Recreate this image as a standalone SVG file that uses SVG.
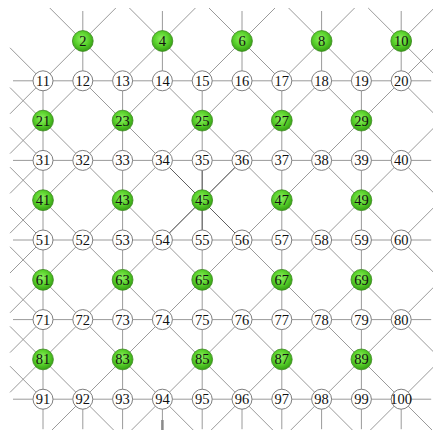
<svg xmlns="http://www.w3.org/2000/svg" width="433" height="430" viewBox="0 0 433 430">
<defs>
<radialGradient id="gg" cx="45%" cy="40%" r="62%">
<stop offset="0%" stop-color="#8ef062"/>
<stop offset="55%" stop-color="#58d02a"/>
<stop offset="100%" stop-color="#329c12"/>
</radialGradient>
</defs>
<style>
.e line{stroke:#9a9a9a;stroke-width:1;fill:none}
.e line.d{stroke:#606060}
.w circle{fill:#fff;stroke:#808080;stroke-width:1}
.g circle{fill:url(#gg);stroke:#3f8a22;stroke-width:0.8}
text{font-family:"Liberation Serif","Times New Roman",serif;font-size:14.5px;text-anchor:middle;fill:#111}
</style>
<rect width="433" height="430" fill="#fff"/>
<g id="connectors" class="e">
<line x1="13" y1="80.8" x2="431.2" y2="80.8"/>
<line x1="13" y1="160.4" x2="431.2" y2="160.4"/>
<line x1="13" y1="240" x2="431.2" y2="240"/>
<line x1="13" y1="319.6" x2="431.2" y2="319.6"/>
<line x1="13" y1="399.2" x2="431.2" y2="399.2"/>
<line x1="43" y1="80.8" x2="43" y2="429.2"/>
<line x1="122.6" y1="80.8" x2="122.6" y2="429.2"/>
<line x1="202.2" y1="80.8" x2="202.2" y2="429.2"/>
<line x1="281.8" y1="80.8" x2="281.8" y2="429.2"/>
<line x1="361.4" y1="80.8" x2="361.4" y2="429.2"/>
<line x1="82.8" y1="11" x2="82.8" y2="80.8"/>
<line x1="162.4" y1="11" x2="162.4" y2="80.8"/>
<line x1="242" y1="11" x2="242" y2="80.8"/>
<line x1="321.6" y1="11" x2="321.6" y2="80.8"/>
<line x1="401.2" y1="11" x2="401.2" y2="80.8"/>
<line x1="82.8" y1="399.2" x2="82.8" y2="429.2"/>
<line x1="162.4" y1="399.2" x2="162.4" y2="429.2"/>
<line x1="242" y1="399.2" x2="242" y2="429.2"/>
<line x1="321.6" y1="399.2" x2="321.6" y2="429.2"/>
<line x1="401.2" y1="399.2" x2="401.2" y2="429.2"/>
<line x1="49.8" y1="8" x2="122.6" y2="80.8"/>
<line x1="115.8" y1="8" x2="10" y2="113.8"/>
<line x1="10" y1="47.8" x2="43" y2="80.8"/>
<line x1="129.4" y1="8" x2="202.2" y2="80.8"/>
<line x1="195.4" y1="8" x2="122.6" y2="80.8"/>
<line x1="209" y1="8" x2="281.8" y2="80.8"/>
<line x1="275" y1="8" x2="202.2" y2="80.8"/>
<line x1="288.6" y1="8" x2="361.4" y2="80.8"/>
<line x1="354.6" y1="8" x2="281.8" y2="80.8"/>
<line x1="368.2" y1="8" x2="434.2" y2="74"/>
<line x1="434.2" y1="8" x2="361.4" y2="80.8"/>
<line x1="82.8" y1="80.8" x2="434.2" y2="432.2"/>
<line x1="10" y1="87.6" x2="354.6" y2="432.2"/>
<line x1="10" y1="167.2" x2="275" y2="432.2"/>
<line x1="10" y1="246.8" x2="195.4" y2="432.2"/>
<line x1="10" y1="326.4" x2="115.8" y2="432.2"/>
<line x1="162.4" y1="80.8" x2="434.2" y2="352.6"/>
<line x1="242" y1="80.8" x2="434.2" y2="273"/>
<line x1="321.6" y1="80.8" x2="434.2" y2="193.4"/>
<line x1="401.2" y1="80.8" x2="434.2" y2="113.8"/>
<line x1="82.8" y1="80.8" x2="10" y2="153.6"/>
<line x1="162.4" y1="80.8" x2="10" y2="233.2"/>
<line x1="242" y1="80.8" x2="10" y2="312.8"/>
<line x1="321.6" y1="80.8" x2="10" y2="392.4"/>
<line x1="434.2" y1="47.8" x2="49.8" y2="432.2"/>
<line x1="434.2" y1="127.4" x2="129.4" y2="432.2"/>
<line x1="434.2" y1="207" x2="209" y2="432.2"/>
<line x1="434.2" y1="286.6" x2="288.6" y2="432.2"/>
<line x1="434.2" y1="366.2" x2="368.2" y2="432.2"/>
<line x1="43" y1="160.4" x2="10" y2="127.4"/>
<line x1="43" y1="160.4" x2="10" y2="193.4"/>
<line x1="43" y1="240" x2="10" y2="207"/>
<line x1="43" y1="240" x2="10" y2="273"/>
<line x1="43" y1="319.6" x2="10" y2="286.6"/>
<line x1="43" y1="319.6" x2="10" y2="352.6"/>
<line x1="43" y1="399.2" x2="10" y2="366.2"/>
<line class="d" x1="162.4" y1="160.4" x2="242" y2="240"/>
<line class="d" x1="242" y1="160.4" x2="162.4" y2="240"/>
<line class="d" x1="202.2" y1="160.4" x2="202.2" y2="240"/>
<line x1="162.4" y1="420" x2="162.4" y2="430" style="stroke:#8a8a8a;stroke-width:2.5"/>
</g>
<g id="nodes">
<g id="n2" class="g"><circle cx="82.8" cy="41" r="10.4"/><text x="82.8" y="46">2</text></g>
<g id="n4" class="g"><circle cx="162.4" cy="41" r="10.4"/><text x="162.4" y="46">4</text></g>
<g id="n6" class="g"><circle cx="242" cy="41" r="10.4"/><text x="242" y="46">6</text></g>
<g id="n8" class="g"><circle cx="321.6" cy="41" r="10.4"/><text x="321.6" y="46">8</text></g>
<g id="n10" class="g"><circle cx="401.2" cy="41" r="10.4"/><text x="401.2" y="46">10</text></g>
<g id="n11" class="w"><circle cx="43" cy="80.8" r="10"/><text x="43" y="85.8">11</text></g>
<g id="n12" class="w"><circle cx="82.8" cy="80.8" r="10"/><text x="82.8" y="85.8">12</text></g>
<g id="n13" class="w"><circle cx="122.6" cy="80.8" r="10"/><text x="122.6" y="85.8">13</text></g>
<g id="n14" class="w"><circle cx="162.4" cy="80.8" r="10"/><text x="162.4" y="85.8">14</text></g>
<g id="n15" class="w"><circle cx="202.2" cy="80.8" r="10"/><text x="202.2" y="85.8">15</text></g>
<g id="n16" class="w"><circle cx="242" cy="80.8" r="10"/><text x="242" y="85.8">16</text></g>
<g id="n17" class="w"><circle cx="281.8" cy="80.8" r="10"/><text x="281.8" y="85.8">17</text></g>
<g id="n18" class="w"><circle cx="321.6" cy="80.8" r="10"/><text x="321.6" y="85.8">18</text></g>
<g id="n19" class="w"><circle cx="361.4" cy="80.8" r="10"/><text x="361.4" y="85.8">19</text></g>
<g id="n20" class="w"><circle cx="401.2" cy="80.8" r="10"/><text x="401.2" y="85.8">20</text></g>
<g id="n21" class="g"><circle cx="43" cy="120.6" r="10.4"/><text x="43" y="125.6">21</text></g>
<g id="n23" class="g"><circle cx="122.6" cy="120.6" r="10.4"/><text x="122.6" y="125.6">23</text></g>
<g id="n25" class="g"><circle cx="202.2" cy="120.6" r="10.4"/><text x="202.2" y="125.6">25</text></g>
<g id="n27" class="g"><circle cx="281.8" cy="120.6" r="10.4"/><text x="281.8" y="125.6">27</text></g>
<g id="n29" class="g"><circle cx="361.4" cy="120.6" r="10.4"/><text x="361.4" y="125.6">29</text></g>
<g id="n31" class="w"><circle cx="43" cy="160.4" r="10"/><text x="43" y="165.4">31</text></g>
<g id="n32" class="w"><circle cx="82.8" cy="160.4" r="10"/><text x="82.8" y="165.4">32</text></g>
<g id="n33" class="w"><circle cx="122.6" cy="160.4" r="10"/><text x="122.6" y="165.4">33</text></g>
<g id="n34" class="w"><circle cx="162.4" cy="160.4" r="10"/><text x="162.4" y="165.4">34</text></g>
<g id="n35" class="w"><circle cx="202.2" cy="160.4" r="10"/><text x="202.2" y="165.4">35</text></g>
<g id="n36" class="w"><circle cx="242" cy="160.4" r="10"/><text x="242" y="165.4">36</text></g>
<g id="n37" class="w"><circle cx="281.8" cy="160.4" r="10"/><text x="281.8" y="165.4">37</text></g>
<g id="n38" class="w"><circle cx="321.6" cy="160.4" r="10"/><text x="321.6" y="165.4">38</text></g>
<g id="n39" class="w"><circle cx="361.4" cy="160.4" r="10"/><text x="361.4" y="165.4">39</text></g>
<g id="n40" class="w"><circle cx="401.2" cy="160.4" r="10"/><text x="401.2" y="165.4">40</text></g>
<g id="n41" class="g"><circle cx="43" cy="200.2" r="10.4"/><text x="43" y="205.2">41</text></g>
<g id="n43" class="g"><circle cx="122.6" cy="200.2" r="10.4"/><text x="122.6" y="205.2">43</text></g>
<g id="n45" class="g"><circle cx="202.2" cy="200.2" r="10.4"/><text x="202.2" y="205.2">45</text></g>
<g id="n47" class="g"><circle cx="281.8" cy="200.2" r="10.4"/><text x="281.8" y="205.2">47</text></g>
<g id="n49" class="g"><circle cx="361.4" cy="200.2" r="10.4"/><text x="361.4" y="205.2">49</text></g>
<g id="n51" class="w"><circle cx="43" cy="240" r="10"/><text x="43" y="245">51</text></g>
<g id="n52" class="w"><circle cx="82.8" cy="240" r="10"/><text x="82.8" y="245">52</text></g>
<g id="n53" class="w"><circle cx="122.6" cy="240" r="10"/><text x="122.6" y="245">53</text></g>
<g id="n54" class="w"><circle cx="162.4" cy="240" r="10"/><text x="162.4" y="245">54</text></g>
<g id="n55" class="w"><circle cx="202.2" cy="240" r="10"/><text x="202.2" y="245">55</text></g>
<g id="n56" class="w"><circle cx="242" cy="240" r="10"/><text x="242" y="245">56</text></g>
<g id="n57" class="w"><circle cx="281.8" cy="240" r="10"/><text x="281.8" y="245">57</text></g>
<g id="n58" class="w"><circle cx="321.6" cy="240" r="10"/><text x="321.6" y="245">58</text></g>
<g id="n59" class="w"><circle cx="361.4" cy="240" r="10"/><text x="361.4" y="245">59</text></g>
<g id="n60" class="w"><circle cx="401.2" cy="240" r="10"/><text x="401.2" y="245">60</text></g>
<g id="n61" class="g"><circle cx="43" cy="279.8" r="10.4"/><text x="43" y="284.8">61</text></g>
<g id="n63" class="g"><circle cx="122.6" cy="279.8" r="10.4"/><text x="122.6" y="284.8">63</text></g>
<g id="n65" class="g"><circle cx="202.2" cy="279.8" r="10.4"/><text x="202.2" y="284.8">65</text></g>
<g id="n67" class="g"><circle cx="281.8" cy="279.8" r="10.4"/><text x="281.8" y="284.8">67</text></g>
<g id="n69" class="g"><circle cx="361.4" cy="279.8" r="10.4"/><text x="361.4" y="284.8">69</text></g>
<g id="n71" class="w"><circle cx="43" cy="319.6" r="10"/><text x="43" y="324.6">71</text></g>
<g id="n72" class="w"><circle cx="82.8" cy="319.6" r="10"/><text x="82.8" y="324.6">72</text></g>
<g id="n73" class="w"><circle cx="122.6" cy="319.6" r="10"/><text x="122.6" y="324.6">73</text></g>
<g id="n74" class="w"><circle cx="162.4" cy="319.6" r="10"/><text x="162.4" y="324.6">74</text></g>
<g id="n75" class="w"><circle cx="202.2" cy="319.6" r="10"/><text x="202.2" y="324.6">75</text></g>
<g id="n76" class="w"><circle cx="242" cy="319.6" r="10"/><text x="242" y="324.6">76</text></g>
<g id="n77" class="w"><circle cx="281.8" cy="319.6" r="10"/><text x="281.8" y="324.6">77</text></g>
<g id="n78" class="w"><circle cx="321.6" cy="319.6" r="10"/><text x="321.6" y="324.6">78</text></g>
<g id="n79" class="w"><circle cx="361.4" cy="319.6" r="10"/><text x="361.4" y="324.6">79</text></g>
<g id="n80" class="w"><circle cx="401.2" cy="319.6" r="10"/><text x="401.2" y="324.6">80</text></g>
<g id="n81" class="g"><circle cx="43" cy="359.4" r="10.4"/><text x="43" y="364.4">81</text></g>
<g id="n83" class="g"><circle cx="122.6" cy="359.4" r="10.4"/><text x="122.6" y="364.4">83</text></g>
<g id="n85" class="g"><circle cx="202.2" cy="359.4" r="10.4"/><text x="202.2" y="364.4">85</text></g>
<g id="n87" class="g"><circle cx="281.8" cy="359.4" r="10.4"/><text x="281.8" y="364.4">87</text></g>
<g id="n89" class="g"><circle cx="361.4" cy="359.4" r="10.4"/><text x="361.4" y="364.4">89</text></g>
<g id="n91" class="w"><circle cx="43" cy="399.2" r="10"/><text x="43" y="404.2">91</text></g>
<g id="n92" class="w"><circle cx="82.8" cy="399.2" r="10"/><text x="82.8" y="404.2">92</text></g>
<g id="n93" class="w"><circle cx="122.6" cy="399.2" r="10"/><text x="122.6" y="404.2">93</text></g>
<g id="n94" class="w"><circle cx="162.4" cy="399.2" r="10"/><text x="162.4" y="404.2">94</text></g>
<g id="n95" class="w"><circle cx="202.2" cy="399.2" r="10"/><text x="202.2" y="404.2">95</text></g>
<g id="n96" class="w"><circle cx="242" cy="399.2" r="10"/><text x="242" y="404.2">96</text></g>
<g id="n97" class="w"><circle cx="281.8" cy="399.2" r="10"/><text x="281.8" y="404.2">97</text></g>
<g id="n98" class="w"><circle cx="321.6" cy="399.2" r="10"/><text x="321.6" y="404.2">98</text></g>
<g id="n99" class="w"><circle cx="361.4" cy="399.2" r="10"/><text x="361.4" y="404.2">99</text></g>
<g id="n100" class="w"><circle cx="401.2" cy="399.2" r="10"/><text x="401.2" y="404.2">100</text></g>
</g>
</svg>
